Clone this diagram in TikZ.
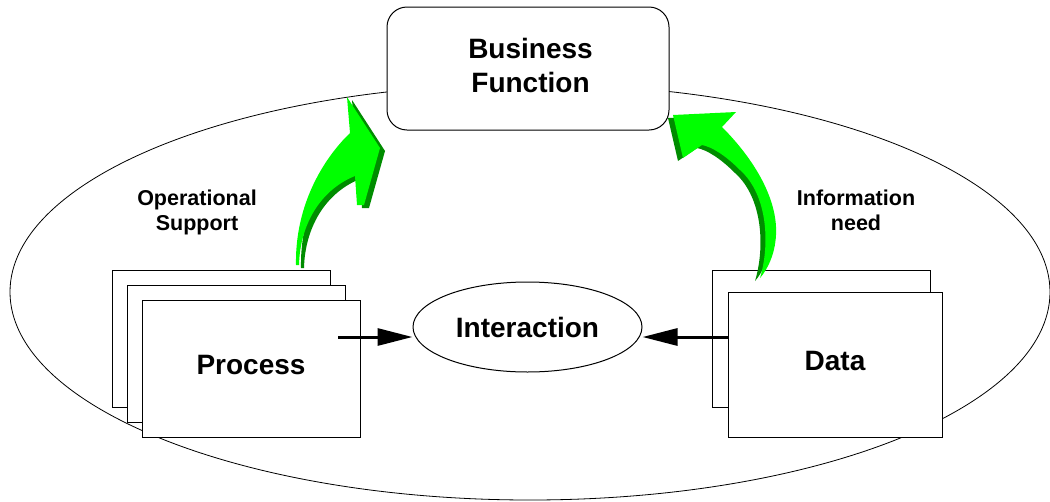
\documentclass[tikz,border=0pt]{standalone}
\usepackage{fontspec}
\setmainfont{Liberation Sans}
\usepackage{tikz}
\usetikzlibrary{shapes.geometric,arrows.meta}

\definecolor{arrowlight}{RGB}{0,255,0}
\definecolor{arrowdark}{RGB}{0,140,0}

\tikzstyle{funcbox} = [draw=black, line width=1pt, rectangle, rounded corners=20pt, fill=white, minimum width=282pt, minimum height=123pt]
\tikzstyle{pagebox} = [draw=black, line width=1pt, rectangle, fill=white, minimum width=218pt, minimum height=137pt, inner sep=0pt, text depth=8pt]
\tikzstyle{linkoval} = [draw=black, line width=1pt, ellipse, fill=white, minimum width=229pt, minimum height=90pt, inner sep=0pt]
\tikzstyle{bigfont} = [font=\fontsize{28}{34}\selectfont\bfseries]
\tikzstyle{bigtext} = [font=\fontsize{28}{34}\selectfont\bfseries, align=center, inner sep=0pt]
\tikzstyle{smalltext} = [font=\fontsize{21.5}{25}\selectfont\bfseries, align=center, inner sep=0pt]
\tikzstyle{flow} = [line width=3pt, -{Triangle[length=35pt,width=17pt]}]

\begin{document}
\begin{tikzpicture}[x=1pt, y=-1pt]
\useasboundingbox (0,0) rectangle (1050,501);

% outer scope
\draw[line width=0.8pt] (530,292) ellipse [x radius=520pt, y radius=208pt];

% business function on top
\node[funcbox] (business) at (528,68.5) {};
\node[bigtext] (bizlabel) at (530.5,65.5) {Business\\Function};

% process stack
\node[pagebox] (procback) at (221,338.5) {};
\node[pagebox] (procmid) at ([shift={(15,15)}]procback.center) {};
\node[pagebox, bigfont] (process) at ([shift={(15,15)}]procmid.center) {Process};

% data stack
\node[pagebox] (databack) at (821.5,338.5) {};
\node[pagebox, bigfont, minimum width=214pt, minimum height=145pt] (data) at (835,364.5) {Data};

\node[linkoval, bigfont] (interaction) at (527.5,327) {Interaction};

\coordinate (procout) at (338,337);
\coordinate (dataout) at (728,337);
\draw[flow] (procout) -- (procout -| interaction.west);
\draw[flow] (dataout) -- (dataout -| interaction.east);

% curved green arrows, shadow first
\foreach \col/\dx in {arrowdark/5, arrowlight/0}{
  \fill[\col, shift={(\dx,\dx*0.6)}] (296,265)
    .. controls (295,215) and (315,170) .. (345,138)
    -- (350,133) -- (347,97) -- (380,148)
    -- (364,205) -- (357,205) -- (355,176)
    .. controls (320,190) and (300,225) .. (299,265) -- cycle;
  \fill[\col, shift={(-\dx,\dx*0.6)}] (673,115)
    -- (736,112) -- (722,127)
    .. controls (755,160) and (778,200) .. (776,235)
    .. controls (775,255) and (767,270) .. (760,278)
    .. controls (770,245) and (768,195) .. (740,170)
    .. controls (725,155) and (712,147) .. (702,145)
    -- (683,158) -- cycle;
}

\node[smalltext] (opsupport) at (197,212) {Operational\\Support};
\node[smalltext] (infoneed) at (856,210) {Information\\need};
\end{tikzpicture}
\end{document}
